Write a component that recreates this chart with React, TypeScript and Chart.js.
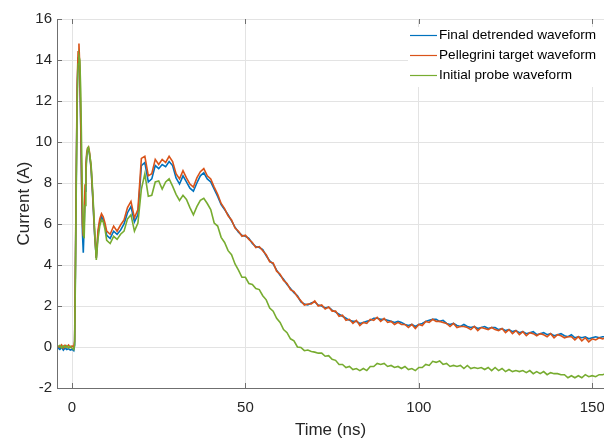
import React, { useEffect, useRef } from "react";
import { Chart, registerables } from "chart.js";

Chart.register(...registerables);

const timeNs = [
  -4, -3.5, -3, -2.5, -2, -1.5, -1, -0.5, 0, 0.5, 0.75, 1, 1.25, 1.5, 1.75, 2, 2.25, 2.5, 2.75, 3, 3.25, 3.5, 3.75, 4,
  4.25, 4.5, 4.75, 5, 5.5, 6, 6.5, 7, 7.5, 8, 8.5, 9, 9.5, 10,
  11, 12, 13, 14, 15, 16, 17, 18, 19, 20, 21, 22, 23, 24, 25, 26, 27, 28, 29, 30,
  31, 32, 33, 34, 35, 36, 37, 38, 39, 40, 41, 42, 43, 44, 45, 46, 47, 48, 49, 50,
  51, 52, 53, 54, 55, 56, 57, 58, 59, 60, 61, 62, 63, 64, 65, 66, 67, 68, 69, 70,
  71, 72, 73, 74, 75, 76, 77, 78, 79, 80, 81, 82, 83, 84, 85, 86, 87, 88, 89, 90,
  91, 92, 93, 94, 95, 96, 97, 98, 99, 100, 101, 102, 103, 104, 105, 106, 107, 108, 109, 110,
  111, 112, 113, 114, 115, 116, 117, 118, 119, 120, 121, 122, 123, 124, 125, 126, 127, 128, 129, 130,
  131, 132, 133, 134, 135, 136, 137, 138, 139, 140, 141, 142, 143, 144, 145, 146, 147, 148, 149, 150,
  151, 152, 153, 154,
];

const finalDetrended = [
  -0.05, -0.12, -0.02, -0.15, -0.05, -0.12, -0.08, -0.15, -0.1, -0.18, 0.1, 4.2, 8.7, 12.6, 14.1, 14.4, 13.3, 10.9, 7.9, 5.6,
  4.6, 5.9, 7.6, 8.7, 9.35, 9.6, 9.65, 9.45, 8.7, 7.2, 5.5, 4.35, 5.55, 6.1, 6.35, 6.2, 5.9, 5.45,
  5.3, 5.65, 5.5, 5.7, 6.0, 6.55, 6.85, 6.1, 6.45, 8.85, 9.0, 8.05, 8.2, 8.85, 8.7, 8.9, 8.8, 9.05, 8.85, 8.25,
  7.95, 8.35, 8.05, 7.75, 7.6, 8.0, 8.35, 8.5, 8.2, 8.05, 7.7, 7.35, 6.95, 6.7, 6.45, 6.15, 5.85, 5.6, 5.45, 5.4,
  5.3, 5.05, 4.9, 4.85, 4.75, 4.45, 4.2, 4.05, 3.75, 3.5, 3.3, 3.05, 2.85, 2.65, 2.5, 2.2, 2.1, 2.05, 2.15, 2.2,
  2.05, 2.0, 1.9, 1.95, 1.8, 1.7, 1.6, 1.5, 1.4, 1.3, 1.25, 1.25, 1.15, 1.2, 1.25, 1.3, 1.4, 1.4, 1.35, 1.35,
  1.3, 1.25, 1.2, 1.25, 1.2, 1.1, 1.05, 1.1, 1.0, 1.1, 1.15, 1.25, 1.3, 1.35, 1.35, 1.25, 1.3, 1.15, 1.1, 1.15,
  1.05, 1.0, 1.1, 1.0, 0.95, 1.0, 0.9, 0.95, 1.0, 0.9, 0.95, 0.95, 0.85, 0.9, 0.8, 0.85, 0.75, 0.8, 0.7, 0.75,
  0.65, 0.7, 0.75, 0.6, 0.65, 0.7, 0.6, 0.65, 0.55, 0.6, 0.65, 0.55, 0.5, 0.6, 0.45, 0.5, 0.45, 0.5, 0.4, 0.45,
  0.5, 0.45, 0.5, 0.5,
];

const pellegriniTarget = [
  0.05, 0.0, 0.1, -0.05, 0.08, 0.0, 0.1, -0.02, 0.05, 0.0, 0.3, 4.5, 9.0, 13.0, 14.4, 14.8, 13.6, 11.2, 8.3, 6.0,
  5.4, 6.4, 7.9, 8.9, 9.5, 9.7, 9.75, 9.55, 8.8, 7.3, 5.6, 4.35, 5.7, 6.25, 6.5, 6.35, 6.05, 5.65,
  5.5, 5.9, 5.65, 5.95, 6.2, 6.8, 7.1, 6.3, 6.7, 9.2, 9.3, 8.35, 8.45, 9.15, 8.9, 9.15, 9.0, 9.3, 9.05, 8.45,
  8.2, 8.6, 8.25, 7.95, 7.8, 8.25, 8.55, 8.7, 8.35, 8.2, 7.8, 7.45, 7.0, 6.75, 6.4, 6.2, 5.8, 5.65, 5.4, 5.45,
  5.25, 5.1, 4.85, 4.9, 4.7, 4.5, 4.15, 4.1, 3.7, 3.55, 3.25, 3.1, 2.8, 2.7, 2.45, 2.25, 2.05, 2.1, 2.1, 2.25,
  2.0, 2.05, 1.85, 1.95, 1.75, 1.75, 1.5, 1.55, 1.3, 1.35, 1.15, 1.3, 1.05, 1.2, 1.15, 1.35, 1.3, 1.45, 1.25, 1.4,
  1.2, 1.25, 1.1, 1.2, 1.1, 1.1, 0.95, 1.1, 0.9, 1.1, 1.05, 1.25, 1.2, 1.35, 1.25, 1.25, 1.2, 1.15, 1.0, 1.15,
  0.95, 1.0, 1.0, 0.95, 0.85, 1.0, 0.8, 0.95, 0.9, 0.85, 0.95, 0.85, 0.8, 0.9, 0.7, 0.85, 0.65, 0.8, 0.6, 0.75,
  0.55, 0.7, 0.65, 0.55, 0.65, 0.6, 0.5, 0.65, 0.45, 0.6, 0.55, 0.45, 0.5, 0.5, 0.35, 0.5, 0.3, 0.45, 0.25, 0.4,
  0.35, 0.45, 0.4, 0.45,
];

const initialProbe = [
  0.02, 0.08, -0.05, 0.05, -0.02, 0.06, -0.04, 0.03, -0.05, -0.12, 0.1, 3.6, 8.2, 12.0, 13.8, 14.2, 14.0, 12.6, 9.9, 7.4,
  5.7, 5.3, 6.9, 8.4, 9.3, 9.7, 9.75, 9.5, 8.9, 7.5, 5.8, 4.25, 5.3, 5.9, 6.2, 6.1, 5.75, 5.2,
  5.05, 5.4, 5.25, 5.5, 5.65, 6.25, 6.45, 5.65, 6.05, 7.7, 8.45, 7.35, 7.4, 8.05, 8.1, 7.7, 8.05, 8.2, 7.85, 7.45,
  7.15, 7.4, 7.2, 6.8, 6.45, 6.85, 7.15, 7.25, 7.0, 6.7, 6.05, 5.9, 5.35, 5.1, 4.7, 4.5, 4.05, 3.75, 3.4, 3.4,
  3.1, 3.05, 2.85, 2.8, 2.5, 2.3, 1.9, 1.75, 1.4, 1.2, 0.85, 0.7, 0.4, 0.3, 0.0, -0.02, -0.18, -0.15, -0.22, -0.25,
  -0.3, -0.3, -0.45, -0.42, -0.6, -0.65, -0.85, -0.85, -1.0, -0.95, -1.1, -1.05, -1.15, -1.05, -1.15, -0.95, -0.95, -0.8, -0.85, -0.8,
  -0.95, -0.9, -1.0, -0.95, -1.05, -0.95, -1.1, -1.05, -1.15, -1.0, -1.0, -0.85, -0.9, -0.7, -0.75, -0.68, -0.85, -0.8, -0.95, -0.9,
  -0.95, -0.9, -1.05, -0.9, -1.05, -1.0, -1.05, -1.0, -1.1, -1.0, -1.15, -1.0, -1.15, -1.05, -1.2, -1.1, -1.2, -1.15, -1.2, -1.15,
  -1.25, -1.15, -1.3, -1.2, -1.3, -1.2, -1.35, -1.25, -1.3, -1.3, -1.35, -1.35, -1.5, -1.4, -1.5, -1.4, -1.5, -1.35, -1.45, -1.4,
  -1.45, -1.35, -1.35, -1.3,
];

const seriesNames = ["Final detrended waveform", "Pellegrini target waveform", "Initial probe waveform"];
const seriesColors = ["#0072BD", "#D95319", "#77AC30"];
const xTickValues = [0, 50, 100, 150];

const FONT = "'Liberation Sans', Arial, Helvetica, sans-serif";
const AXIS_COLOR = "#6f6f6f";

const matlabPlugin = {
  id: "matlabLook",
  beforeDraw(chart: any) {
    const ctx = chart.ctx;
    ctx.save();
    ctx.fillStyle = "#ffffff";
    ctx.fillRect(0, 0, chart.width, chart.height);
    ctx.restore();
  },
  beforeDatasetsDraw(chart: any) {
    const ctx = chart.ctx;
    const area = chart.chartArea;
    const xs = chart.scales.x;
    const ys = chart.scales.y;
    ctx.save();
    ctx.strokeStyle = AXIS_COLOR;
    ctx.lineWidth = 1;
    ctx.beginPath();
    xs.ticks.forEach((t: any) => {
      const px = Math.round(xs.getPixelForValue(t.value)) + 0.5;
      ctx.moveTo(px, area.bottom);
      ctx.lineTo(px, area.bottom - 5);
      ctx.moveTo(px, area.top);
      ctx.lineTo(px, area.top + 5);
    });
    ys.ticks.forEach((t: any) => {
      const py = Math.round(ys.getPixelForValue(t.value)) + 0.5;
      ctx.moveTo(area.left, py);
      ctx.lineTo(area.left + 5, py);
    });
    ctx.stroke();
    ctx.restore();
  },
  afterDraw(chart: any) {
    const ctx = chart.ctx;
    ctx.save();
    ctx.fillStyle = "#ffffff";
    ctx.fillRect(408, 27, 196, 60);
    ctx.font = `13.6px ${FONT}`;
    ctx.textBaseline = "middle";
    ctx.textAlign = "left";
    seriesNames.forEach((name, i) => {
      const y = 35 + i * 20;
      ctx.strokeStyle = seriesColors[i];
      ctx.lineWidth = 1.2;
      ctx.beginPath();
      ctx.moveTo(410, y + 0.5);
      ctx.lineTo(437, y + 0.5);
      ctx.stroke();
      ctx.fillStyle = "#000000";
      ctx.fillText(name, 439, y + 0.5);
    });
    ctx.restore();
  },
};

export default function App() {
  const canvasRef = useRef<HTMLCanvasElement | null>(null);

  useEffect(() => {
    if (!canvasRef.current) return;
    const series = [finalDetrended, pellegriniTarget, initialProbe];
    const chart = new Chart(canvasRef.current, {
      type: "line",
      data: {
        datasets: series.map((vals, i) => ({
          label: seriesNames[i],
          data: timeNs.map((t, j) => ({ x: t, y: vals[j] })),
          borderColor: seriesColors[i],
          backgroundColor: seriesColors[i],
          borderWidth: 1.6,
          pointRadius: 0,
          tension: 0,
          fill: false,
          order: 3 - i,
        })),
      },
      options: {
        animation: false,
        responsive: false,
        maintainAspectRatio: false,
        layout: { padding: { top: 19, right: 0, left: 0, bottom: 0 } },
        plugins: { legend: { display: false }, tooltip: { enabled: false } },
        scales: {
          x: {
            type: "linear",
            min: -4.33,
            max: 153.4,
            afterBuildTicks: (scale: any) => {
              scale.ticks = xTickValues.map((v) => ({ value: v }));
            },
            afterFit: (scale: any) => {
              scale.height = 51;
              scale.paddingLeft = 0;
              scale.paddingRight = 0;
            },
            grid: { color: "#e3e3e3", lineWidth: 1, drawTicks: false },
            border: { display: true, color: AXIS_COLOR, width: 1 },
            ticks: {
              padding: 11,
              color: "#262626",
              font: { family: FONT, size: 15 },
              maxRotation: 0,
              autoSkip: false,
            },
            title: {
              display: true,
              text: "Time (ns)",
              color: "#262626",
              font: { family: FONT, size: 17, lineHeight: 1.0 },
              padding: { top: 0, bottom: 0 },
            },
          },
          y: {
            type: "linear",
            min: -2,
            max: 16,
            afterFit: (scale: any) => {
              scale.width = 57;
              scale.paddingTop = 0;
              scale.paddingBottom = 0;
            },
            grid: { color: "#e3e3e3", lineWidth: 1, drawTicks: false },
            border: { display: true, color: AXIS_COLOR, width: 1 },
            ticks: {
              stepSize: 2,
              padding: 5,
              color: "#262626",
              font: { family: FONT, size: 15 },
            },
            title: {
              display: true,
              text: "Current (A)",
              color: "#262626",
              font: { family: FONT, size: 17, lineHeight: 1.0 },
              padding: { top: 16, bottom: 0 },
            },
          },
        },
      },
      plugins: [matlabPlugin],
    });
    return () => chart.destroy();
  }, []);

  return (
    <div style={{ position: "fixed", left: 0, top: 0, width: 604, height: 439, background: "#fff" }}>
      <canvas ref={canvasRef} width={604} height={439} style={{ width: 604, height: 439, display: "block" }} />
    </div>
  );
}
